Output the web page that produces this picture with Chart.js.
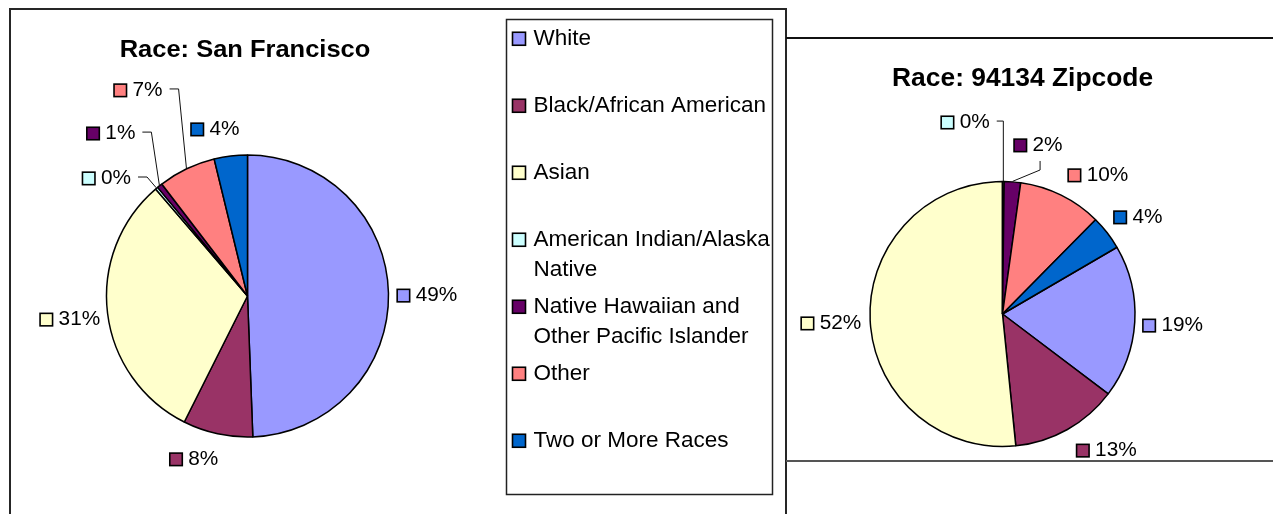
<!DOCTYPE html>
<html><head><meta charset="utf-8">
<script src="https://cdn.jsdelivr.net/npm/chart.js@4.4.1/dist/chart.umd.min.js"></script>
<style>
html,body{margin:0;padding:0;background:#fff;}
#wrap{position:relative;width:1273px;height:514px;overflow:hidden;}
canvas{position:absolute;}
#c1{left:0;top:0;}
#c2{left:786px;top:0;}
.frame{position:absolute;box-sizing:border-box;}
</style></head><body>
<div id="wrap">
<div class="frame" style="left:9px;top:8px;width:778px;height:540px;border:2px solid #262626;"></div>
<div class="frame" style="left:786px;top:37px;width:487px;height:2px;border-top:2px solid #111;"></div>
<div class="frame" style="left:786px;top:460px;width:487px;height:2px;border-top:2px solid #555;"></div>
<canvas id="c1" width="786" height="514"></canvas>
<canvas id="c2" width="487" height="514"></canvas>
</div>
<script>
// ---- data ----
const categories = ['White', 'Black/African American', 'Asian', 'American Indian/Alaska Native',
  'Native Hawaiian and Other Pacific Islander', 'Other', 'Two or More Races'];
const sfValues = [49.4, 8.0, 31.3, 0.3, 0.6, 6.6, 3.8];
const zipValues = [18.7, 13.1, 51.6, 0.2, 2.0, 10.2, 4.2];
const sliceColors = ['#9999FF', '#993366', '#FFFFCC', '#CCFFFF', '#660066', '#FF8080', '#0066CC'];
const sfTitle = 'Race: San Francisco';
const zipTitle = 'Race: 94134 Zipcode';

const FAM = '"Liberation Sans", Arial, sans-serif';

function drawText(ctx, text, x, y, font, sx, align) {
  ctx.save();
  ctx.font = font;
  ctx.textBaseline = 'alphabetic';
  ctx.textAlign = 'left';
  const w = ctx.measureText(text).width * sx;
  const x0 = align === 'center' ? x - w / 2 : x;
  ctx.translate(x0, y);
  ctx.scale(sx, 1);
  ctx.fillStyle = '#000';
  ctx.fillText(text, 0, 0);
  ctx.restore();
  return w;
}
function textWidth(ctx, text, font, sx) {
  ctx.save(); ctx.font = font;
  const w = ctx.measureText(text).width * sx;
  ctx.restore();
  return w;
}
function marker(ctx, x, bottom, size, color) {
  ctx.save();
  ctx.fillStyle = color;
  ctx.fillRect(x, bottom - size, size, size);
  ctx.strokeStyle = '#000';
  ctx.lineWidth = 1.6;
  ctx.strokeRect(x, bottom - size, size, size);
  ctx.restore();
}

const pieDecor = {
  id: 'pieDecor',
  afterDraw(chart, args, opts) {
    const ctx = chart.ctx;
    const meta = chart.getDatasetMeta(0);
    const ds = chart.data.datasets[0];
    const total = ds.data.reduce((a, b) => a + b, 0);
    const lf = opts.labelSize + 'px ' + FAM;
    const cap = 0.716 * opts.labelSize;

    // title
    drawText(ctx, opts.title, opts.titleX, opts.titleY, 'bold ' + opts.titleSize + 'px ' + FAM, opts.titleSx, 'center');

    // data labels
    meta.data.forEach((arc, i) => {
      const p = arc.getProps(['x', 'y', 'startAngle', 'endAngle', 'outerRadius'], true);
      const mid = (p.startAngle + p.endAngle) / 2;
      const n = opts.nudges[i] || {};
      const a = mid + (n.da || 0) * Math.PI / 180;
      const d = p.outerRadius + opts.distance + (n.dr || 0);
      const cx = p.x + Math.cos(a) * d;
      const cy = p.y + Math.sin(a) * d;
      const text = Math.round(ds.data[i] / total * 100) + '%';
      const tw = textWidth(ctx, text, lf, opts.labelSx);
      const gw = 13 + 6 + tw;
      const left = cx - gw / 2;
      const base = cy + cap / 2;
      marker(ctx, left + 0.5, base + 0.5, 12.5, ds.backgroundColor[i]);
      drawText(ctx, text, left + 19, base, lf, opts.labelSx, 'left');
      if (n.leader) {
        const ex = p.x + Math.cos(mid) * (p.outerRadius + 0.5);
        const ey = p.y + Math.sin(mid) * (p.outerRadius + 0.5);
        ctx.save();
        ctx.strokeStyle = '#111';
        ctx.lineWidth = 1;
        ctx.beginPath();
        if (n.leader === 'right') {
          const sx0 = left + gw + 7;
          const kx = Math.min(sx0 + 9, ex);
          ctx.moveTo(sx0, cy);
          ctx.lineTo(kx, cy);
          ctx.lineTo(ex, ey);
        } else {
          const sx0 = cx + 2, sy0 = cy + 17;
          ctx.moveTo(sx0, sy0);
          ctx.lineTo(sx0, sy0 + 9);
          ctx.lineTo(ex, ey);
        }
        ctx.stroke();
        ctx.restore();
      }
    });

    // legend
    if (opts.legend) {
      const L = opts.legend;
      ctx.save();
      ctx.strokeStyle = '#222';
      ctx.lineWidth = 1.5;
      ctx.strokeRect(L.x, L.y, L.w, L.h);
      ctx.restore();
      const font = L.size + 'px ' + FAM;
      const lcap = 0.716 * L.size;
      const textX = L.x + 27;
      const maxW = L.x + L.w - textX - 1;
      chart.data.labels.forEach((lab, i) => {
        const capMid = L.first + L.pitch * i;
        const base = capMid + lcap / 2;
        marker(ctx, L.x + 6, base + 0.5, 13, ds.backgroundColor[i]);
        // word wrap
        const words = lab.split(' ');
        const lines = [];
        let cur = '';
        words.forEach(w => {
          const t = cur ? cur + ' ' + w : w;
          if (cur && textWidth(ctx, t, font, L.sx) > maxW) { lines.push(cur); cur = w; }
          else cur = t;
        });
        lines.push(cur);
        lines.forEach((ln, k) => drawText(ctx, ln, textX, base + k * L.lineH, font, L.sx, 'left'));
      });
    }
  }
};

function makePie(id, values, rotation, radius, padding, decor) {
  return new Chart(document.getElementById(id), {
    type: 'pie',
    data: {
      labels: categories,
      datasets: [{
        data: values,
        backgroundColor: sliceColors,
        borderColor: '#000',
        borderWidth: 1.5
      }]
    },
    options: {
      responsive: false,
      animation: false,
      events: [],
      rotation: rotation,
      radius: radius,
      layout: { padding: padding },
      plugins: {
        legend: { display: false },
        tooltip: { enabled: false },
        pieDecor: decor
      }
    },
    plugins: [pieDecor]
  });
}

makePie('c1', sfValues, 0, 141,
  { left: 97.5, right: 388.5, top: 146, bottom: 68 },
  {
    title: sfTitle, titleX: 245, titleY: 56.7, titleSize: 24.5, titleSx: 1.04,
    labelSize: 20, labelSx: 1.04, distance: 38,
    nudges: [
      { da: 0.5, dr: 0.5 },
      { da: 6.1, dr: -8.4 },
      { da: -0.1, dr: 0 },
      { da: -9.7, dr: 5.5, leader: 'right' },
      { da: -1.3, dr: 34.4, leader: 'right' },
      { da: -2.3, dr: 55.2, leader: 'right' },
      { da: -4.1, dr: -7.9 }
    ],
    legend: { x: 506.5, y: 19.5, w: 266, h: 475, size: 22.5, sx: 1.0, first: 36.7, pitch: 67, lineH: 30 }
  });

makePie('c2', zipValues, 59.76, 132.5,
  { left: 66.5, right: 120.5, top: 164, bottom: 50 },
  {
    title: zipTitle, titleX: 236.6, titleY: 86, titleSize: 25.5, titleSx: 1.035,
    labelSize: 20, labelSx: 1.04, distance: 38,
    nudges: [
      { da: 0, dr: 0 },
      { da: -8.2, dr: 0 },
      { da: 0.2, dr: 1.2 },
      { da: -11.3, dr: 26, leader: 'right' },
      { da: 7.5, dr: 3.2, leader: 'below' },
      { da: 8, dr: -1 },
      { da: 1.9, dr: -3.3 }
    ]
  });
</script>
</body></html>
